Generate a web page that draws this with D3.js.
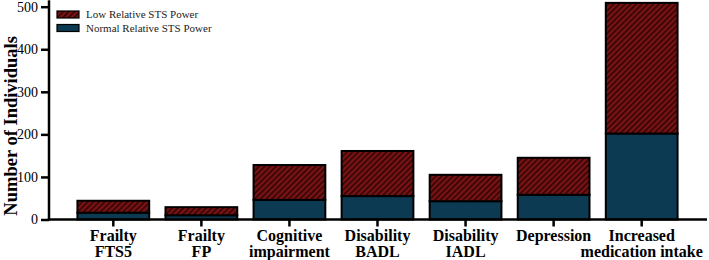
<!DOCTYPE html>
<html>
<head>
<meta charset="utf-8">
<script src="https://cdn.jsdelivr.net/npm/d3@7"></script>
<style>
  body { margin: 0; background: #fff; }
</style>
</head>
<body>
<div id="chart"></div>
<script>
// data
const categories = [
  ['Frailty', 'FTS5'],
  ['Frailty', 'FP'],
  ['Cognitive', 'impairment'],
  ['Disability', 'BADL'],
  ['Disability', 'IADL'],
  ['Depression'],
  ['Increased', 'medication intake']
];
const normalPower = [16, 10, 46, 55, 43, 58, 202];
const lowPower = [28, 19, 82, 106, 62, 87, 307];
const yTicks = [0, 100, 200, 300, 400, 500];
const seriesNames = ['Low Relative STS Power', 'Normal Relative STS Power'];

const serif = 'Liberation Serif';
const width = 709, height = 260;
const svg = d3.select('#chart').append('svg')
  .attr('width', width)
  .attr('height', height)
  .attr('font-family', serif);

const defs = svg.append('defs');
const pat = defs.append('pattern')
  .attr('id', 'hatch')
  .attr('patternUnits', 'userSpaceOnUse')
  .attr('width', 4)
  .attr('height', 4)
  .attr('patternTransform', 'rotate(45)');
pat.append('rect').attr('width', 4).attr('height', 4).attr('fill', '#7c1214');
pat.append('rect').attr('x', 0).attr('width', 1.6).attr('height', 4).attr('fill', '#2e0606');

const x = d3.scaleBand()
  .domain(d3.range(categories.length))
  .range([69.5, 685.5])
  .paddingInner(0.185)
  .paddingOuter(0.09);

const y = d3.scaleLinear()
  .domain([0, 500])
  .range([219.5, 6.7]);

const stacked = categories.map((c, i) => ({
  i,
  normal: normalPower[i],
  low: lowPower[i]
}));

// bars
const g = svg.append('g');
g.selectAll('rect.normal')
  .data(stacked)
  .enter()
  .append('rect')
  .attr('class', 'normal')
  .attr('x', (d) => x(d.i))
  .attr('width', x.bandwidth())
  .attr('y', (d) => y(d.normal))
  .attr('height', (d) => y(0) - y(d.normal))
  .style('fill', '#0c3a52')
  .style('stroke', '#000')
  .style('stroke-width', 2);

g.selectAll('rect.low')
  .data(stacked)
  .enter()
  .append('rect')
  .attr('class', 'low')
  .attr('x', (d) => x(d.i))
  .attr('width', x.bandwidth())
  .attr('y', (d) => y(d.normal + d.low))
  .attr('height', (d) => y(d.normal) - y(d.normal + d.low))
  .style('fill', 'url(#hatch)')
  .style('stroke', '#000')
  .style('stroke-width', 2);

// y axis
const yAxis = svg.append('g')
  .attr('transform', 'translate(49,0)')
  .call(d3.axisLeft(y).tickValues(yTicks).tickSize(8).tickSizeOuter(0))
  .attr('font-family', serif)
  .attr('font-size', 14);
yAxis.select('.domain').remove();
yAxis.append('line')
  .attr('x1', 0).attr('x2', 0)
  .attr('y1', y(0) + 1).attr('y2', y(515))
  .attr('stroke', '#000').attr('stroke-width', 2.5);
yAxis.selectAll('.tick line').attr('stroke', '#000').attr('stroke-width', 2.5);
yAxis.selectAll('.tick text')
  .attr('x', -11)
  .attr('font-family', serif)
  .attr('font-size', 14)
  .attr('fill', '#000');

// x axis
const xAxis = svg.append('g')
  .attr('transform', `translate(0,${y(0)})`);
xAxis.append('line')
  .attr('x1', 47.75).attr('x2', 707)
  .attr('y1', 0).attr('y2', 0)
  .attr('stroke', '#000').attr('stroke-width', 2.5);
xAxis.selectAll('line.tick')
  .data(stacked)
  .enter()
  .append('line')
  .attr('class', 'tick')
  .attr('x1', (d) => x(d.i) + x.bandwidth() / 2)
  .attr('x2', (d) => x(d.i) + x.bandwidth() / 2)
  .attr('y1', 0).attr('y2', 7)
  .attr('stroke', '#000').attr('stroke-width', 2.5);

const labels = xAxis.selectAll('text.cat')
  .data(categories)
  .enter()
  .append('text')
  .attr('class', 'cat')
  .attr('text-anchor', 'middle')
  .attr('transform', (d, i) => `translate(${x(i) + x.bandwidth() / 2},0)`)
  .attr('font-family', serif)
  .attr('font-size', 16)
  .attr('font-weight', 'bold');
labels.selectAll('tspan')
  .data((d) => d)
  .enter()
  .append('tspan')
  .attr('x', 0)
  .attr('y', (d, j) => 21.5 + j * 16)
  .text((d) => d);

// y label
svg.append('text')
  .attr('transform', `translate(17,${y(220)}) rotate(-90)`)
  .attr('text-anchor', 'middle')
  .attr('font-family', serif)
  .attr('font-size', 18.5)
  .attr('font-weight', 'bold')
  .text('Number of Individuals');

// legend
const legend = svg.append('g').attr('transform', 'translate(57,11)');
const fills = ['url(#hatch)', '#0c3a52'];
const items = legend.selectAll('g')
  .data(seriesNames)
  .enter()
  .append('g')
  .attr('transform', (d, i) => `translate(0,${i * 13.5})`);
items.append('rect')
  .attr('width', 22)
  .attr('height', 7)
  .style('fill', (d, i) => fills[i])
  .style('stroke', '#000')
  .style('stroke-width', 1.2);
items.append('text')
  .attr('x', 29)
  .attr('y', 7)
  .attr('font-size', 11)
  .attr('fill', '#222')
  .text((d) => d);
</script>
</body>
</html>
